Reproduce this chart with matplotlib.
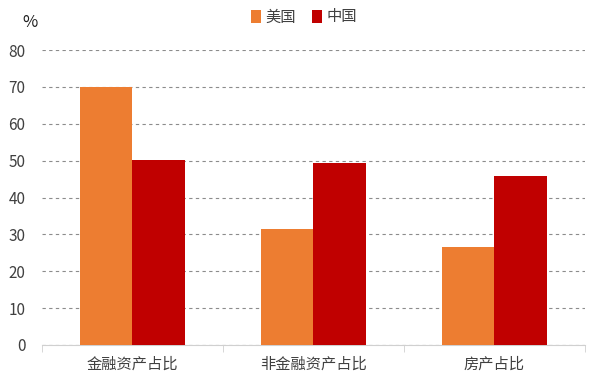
import matplotlib
matplotlib.use('Agg')
import matplotlib.pyplot as plt
import numpy as np

plt.rcParams['font.family'] = ['Noto Sans CJK SC', 'DejaVu Sans']

categories = ['金融资产占比', '非金融资产占比', '房产占比']
usa = [70, 31.5, 26.5]
china = [50.3, 49.5, 45.8]
series_names = ['美国', '中国']
colors = ['#ED7D31', '#C00000']

fig = plt.figure(figsize=(6.08, 3.77), dpi=100)
ax = fig.add_axes([0.069, 0.085, 0.893, 0.782])

x = np.arange(len(categories))
w = 0.29
ax.bar(x - w / 2, usa, w, color=colors[0], label=series_names[0], zorder=3)
ax.bar(x + w / 2, china, w, color=colors[1], label=series_names[1], zorder=3)

ax.set_xlim(-0.5, len(categories) - 0.5)
ax.set_ylim(0, 80)
ax.set_yticks(range(0, 81, 10))
ax.yaxis.grid(True, linestyle=(0, (3, 3)), color='#8c8c8c', linewidth=0.8, zorder=0)
ax.set_axisbelow(True)

for s in ['top', 'right', 'left']:
    ax.spines[s].set_visible(False)
ax.spines['bottom'].set_color('#d0d0d0')

ax.set_xticks(x)
ax.set_xticklabels(categories, fontsize=11, color='#404040')
ax.tick_params(axis='x', length=0, pad=8)
ax.set_xticks([-0.5, 0.5, 1.5, 2.5], minor=True)
ax.tick_params(axis='x', which='minor', length=5, color='#d0d0d0')
ax.tick_params(axis='y', length=0, labelsize=11, labelcolor='#404040', pad=12)

fig.text(0.05, 0.94, '%', fontsize=12, ha='center', va='center', color='#202020')

ax.legend(loc='center', bbox_to_anchor=(0.5, 0.955), bbox_transform=fig.transFigure,
          ncol=2, frameon=False, fontsize=11, handlelength=0.7, handleheight=0.9,
          handletextpad=0.3, columnspacing=1.0, labelcolor='#404040')

fig.savefig('out.png', dpi=100, facecolor='white')
